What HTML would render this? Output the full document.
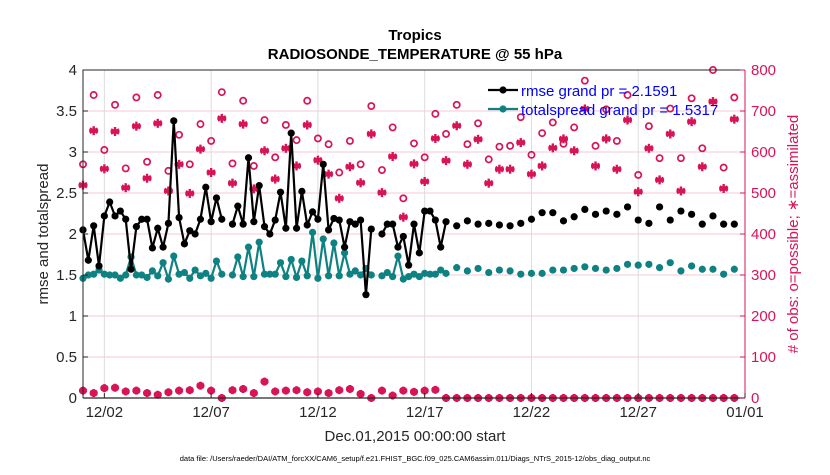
<!DOCTYPE html>
<html><head><meta charset="utf-8"><style>
body{margin:0;background:#fff;}
svg text{font-family:"Liberation Sans",sans-serif;}
</style></head><body>
<svg id="chart" width="830" height="470" xmlns="http://www.w3.org/2000/svg"></svg>
<script>
const rmse6h = [2.05,1.68,2.10,1.61,2.22,2.39,2.22,2.28,2.18,1.57,2.09,2.18,2.18,1.83,2.07,1.84,2.13,3.38,2.2,1.88,2.04,2.0,2.18,2.57,2.15,2.44,2.18,null,2.12,2.34,2.12,2.93,2.15,2.59,2.09,2.0,2.17,2.51,2.07,3.23,2.07,2.52,2.11,2.27,2.18,2.85,2.05,2.19,2.17,1.84,2.15,2.12,2.17,1.26,2.06,null,2.0,2.12,2.12,1.84,1.97,1.62,2.12,1.77,2.28,2.28,2.17,1.84,2.15];
const spread6h = [1.46,1.50,1.51,1.56,1.51,1.50,1.50,1.46,1.50,1.72,1.50,1.50,1.47,1.55,1.49,1.65,1.45,1.73,1.51,1.53,1.46,1.56,1.49,1.52,1.46,1.67,1.51,null,1.50,1.72,1.48,1.84,1.48,1.90,1.51,1.51,1.51,1.65,1.48,1.69,1.47,1.67,1.49,2.02,1.46,1.94,1.49,1.89,1.49,1.77,1.51,1.55,1.50,1.58,1.50,null,1.49,1.53,1.48,1.73,1.45,1.48,1.51,1.48,1.52,1.51,1.51,1.56,1.52];
const rmse12h = [2.10,2.16,2.12,2.13,2.11,2.10,2.13,2.18,2.26,2.26,2.16,2.21,2.30,2.24,2.28,2.24,2.33,2.17,2.13,2.33,2.17,2.28,2.24,2.12,2.22,2.12,2.12];
const spread12h = [1.59,1.55,1.58,1.53,1.56,1.55,1.51,1.52,1.52,1.56,1.56,1.58,1.60,1.58,1.56,1.58,1.63,1.62,1.63,1.59,1.65,1.55,1.61,1.57,1.57,1.51,1.57];
const possibleObs = [570,739,605,715,560,733,576,739,554,642,570,668,627,746,572,725,566,678,587,666,629,725,633,619,550,627,570,712,556,660,487,621,587,693,644,715,619,670,582,613,615,685,593,646,672,620,660,774,615,704,627,739,544,663,585,706,585,731,609,800,562,733];
const assimObs = [519,652,559,650,513,663,536,670,505,570,499,607,550,682,524,668,510,603,534,609,566,666,580,546,487,564,525,644,501,589,441,571,528,633,579,664,570,631,524,558,558,623,546,566,610,632,603,705,566,632,558,678,503,609,532,644,505,674,564,723,511,680];
const lowObs = [18,12,24,25,16,18,12,8,14,18,19,30,18,0,19,22,12,40,16,18,19,14,16,12,19,22,10,0,18,6,18,15,18,20,0,0,0,0,0,0,0,0,0,0,0,0,0,0,0,0,0,0,0,0,0,0,0,0,0,0,0,0];
const xTickLabels = ["12/02","12/07","12/12","12/17","12/22","12/27","01/01"];
const xTickDays = [1,6,11,16,21,26,31];
const yLeftTicks = [0,0.5,1,1.5,2,2.5,3,3.5,4];
const yRightTicks = [0,100,200,300,400,500,600,700,800];

const NS="http://www.w3.org/2000/svg";
const svg=document.getElementById('chart');
const L=83,R=745,T=70,B=398;
const xs=d=>L+(R-L)*d/31;
const yl=v=>B-(B-T)*v/4;
const yr=v=>B-(B-T)*v/800;
const PINK="#d81459", TEAL="#0e8282";
function el(tag,attrs,parent){const e=document.createElementNS(NS,tag);for(const k in attrs)e.setAttribute(k,attrs[k]);(parent||svg).appendChild(e);return e;}
function txt(s,attrs){const t=el('text',attrs);t.textContent=s;return t;}

yLeftTicks.forEach(v=>{const g=el('line',{x1:L,x2:R,y1:yl(v),y2:yl(v),stroke:"#f4c9d6","stroke-width":1});

});
xTickDays.forEach(d=>{const g=el('line',{x1:xs(d),x2:xs(d),y1:T,y2:B,stroke:"#dcdcdc","stroke-width":1});

});

function star(x,y,c,s){const g=el('g',{stroke:c,"stroke-width":2.4});
[[0,s],[s*0.87,s*0.5],[s*0.87,-s*0.5],[s,0]].forEach(([dx,dy])=>el('line',{x1:x-dx,y1:y-dy,x2:x+dx,y2:y+dy},g));
el('circle',{cx:x,cy:y,r:s*0.6,fill:c,stroke:"none"},g);return g;}
possibleObs.forEach((v,i)=>{const c=el('circle',{cx:xs(i*0.5),cy:yr(v),r:3.1,fill:"none",stroke:PINK,"stroke-width":1.7});

});
assimObs.forEach((v,i)=>{const s=star(xs(i*0.5),yr(v),PINK,4.5);

});
lowObs.forEach((v,i)=>{const c=el('circle',{cx:xs(i*0.5),cy:yr(v),r:3,fill:"none",stroke:PINK,"stroke-width":1.7});


const s=star(xs(i*0.5),yr(v),PINK,4);

});

function series(v6,v12,color,name){
  const pts=[];v6.forEach((v,i)=>pts.push([i*0.25,v]));pts.push([17.25,null]);v12.forEach((v,i)=>pts.push([17.5+i*0.5,v]));
  let segs=[],cur=[];
  v6.forEach((v,i)=>{if(v==null){if(cur.length)segs.push(cur);cur=[];}else cur.push([xs(i*0.25),yl(v)]);});
  if(cur.length)segs.push(cur);
  segs.forEach(s=>{if(s.length>1){const p=el('polyline',{points:s.map(q=>q.join(',')).join(' '),fill:"none",stroke:color,"stroke-width":2.2});
  
  }});
  pts.forEach(([d,v])=>{if(v==null)return;const c=el('circle',{cx:xs(d),cy:yl(v),r:3.6,fill:color});
  
  });
}
series(spread6h,spread12h,TEAL,'totalspread');
series(rmse6h,rmse12h,"#000",'rmse');

const ax=el('path',{d:`M${L},${B}V${T}H${R}`,fill:"none",stroke:"#262626","stroke-width":1});

const bx=el('line',{x1:L,x2:R,y1:B,y2:B,stroke:"#262626","stroke-width":1.2});

const rx=el('line',{x1:R,x2:R,y1:T,y2:B,stroke:PINK,"stroke-width":1});

yLeftTicks.forEach(v=>{el('line',{x1:L,x2:L+5,y1:yl(v),y2:yl(v),stroke:"#262626"});
const t=txt(String(v),{x:L-6,y:yl(v)+5,"text-anchor":"end","font-size":15,fill:"#262626"});
});
yRightTicks.forEach(v=>{el('line',{x1:R-5,x2:R,y1:yr(v),y2:yr(v),stroke:PINK});
const t=txt(String(v),{x:R+6,y:yr(v)+5,"font-size":15,fill:PINK});
});
xTickLabels.forEach((s,i)=>{const x=xs(xTickDays[i]);el('line',{x1:x,x2:x,y1:B,y2:B-5,stroke:"#262626"});
const t=txt(s,{x:x,y:B+19,"text-anchor":"middle","font-size":15,fill:"#262626"});
});
</script>
<svg style="position:absolute;left:0;top:0" width="830" height="470">
<text x="415" y="40" text-anchor="middle" font-size="15" font-weight="bold" fill="#000">Tropics</text>
<text x="415" y="59" text-anchor="middle" font-size="15" font-weight="bold" fill="#000">RADIOSONDE_TEMPERATURE @ 55 hPa</text>
<text transform="translate(48,234) rotate(-90)" text-anchor="middle" font-size="15" fill="#262626">rmse and totalspread</text>
<text transform="translate(798,234) rotate(-90)" text-anchor="middle" font-size="15" fill="#d81459"># of obs: o=possible; ∗=assimilated</text>
<text x="415" y="441" text-anchor="middle" font-size="15" fill="#262626">Dec.01,2015 00:00:00 start</text>
<text x="415" y="461" text-anchor="middle" font-size="7.5" fill="#000">data file: /Users/raeder/DAI/ATM_forcXX/CAM6_setup/f.e21.FHIST_BGC.f09_025.CAM6assim.011/Diags_NTrS_2015-12/obs_diag_output.nc</text>
<g>
<line x1="488" x2="518" y1="90" y2="90" stroke="#000" stroke-width="2.2"/><circle cx="503" cy="90" r="3.6" fill="#000"/>
<text x="521" y="96" font-size="15" fill="#0000ff">rmse grand pr = 2.1591</text>
<line x1="488" x2="518" y1="109" y2="109" stroke="#0e8282" stroke-width="2.2"/><circle cx="503" cy="109" r="3.6" fill="#0e8282"/>
<text x="521" y="115" font-size="15" fill="#0000ff">totalspread grand pr = 1.5317</text>
</g>
</svg>
</body></html>
